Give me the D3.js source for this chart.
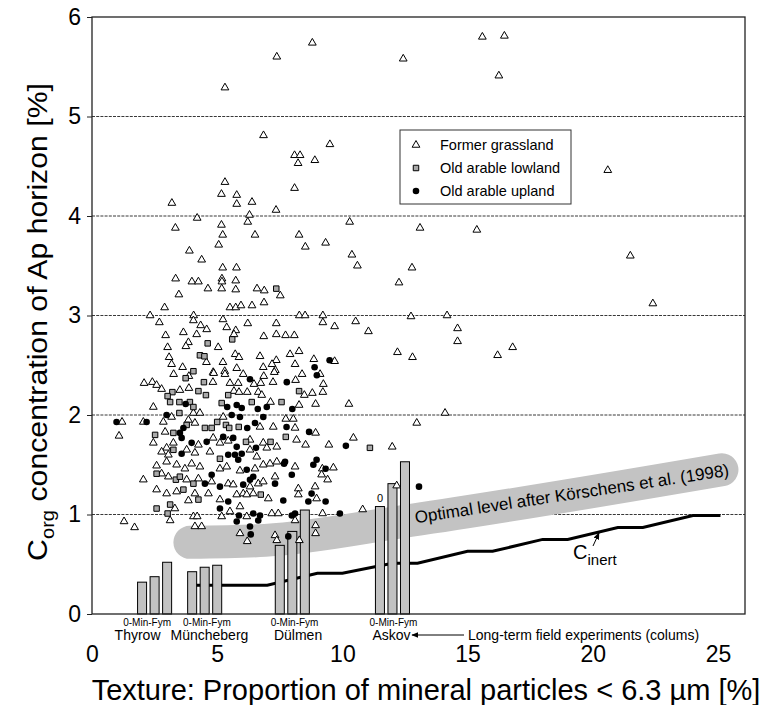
<!DOCTYPE html>
<html><head><meta charset="utf-8">
<script src="https://cdn.jsdelivr.net/npm/d3@7/dist/d3.min.js"></script>
<style>
body{margin:0;background:#fff}
text{font-family:"Liberation Sans",Arial,sans-serif;fill:#000}
</style></head>
<body><svg id="chart" width="765" height="705"></svg>
<script>
// ---------- data ----------
const xTicks = [0, 5, 10, 15, 20, 25];
const yTicks = [0, 1, 2, 3, 4, 5, 6];
const gridValues = [1, 2, 3, 4, 5];

const grassland = [
[8.80,5.74],[7.38,5.60],[5.31,5.29],[12.43,5.58],[15.59,5.80],[16.47,5.81],[16.25,5.41],
[6.85,4.81],[9.50,4.72],[8.09,4.61],[8.31,4.61],[8.23,4.53],[8.90,4.56],[20.60,4.46],
[5.31,4.34],[5.17,4.22],[5.78,4.21],[3.19,4.13],[5.78,4.12],[6.39,4.14],[8.09,4.28],[7.35,4.06],[6.29,4.01],[4.20,3.98],[6.22,3.94],[3.33,3.88],[5.17,3.91],[5.22,3.81],[6.51,3.81],[5.06,3.71],[8.27,3.81],[8.52,3.69],[9.33,3.73],[10.29,3.94],[13.10,3.88],[15.37,3.86],[3.89,3.65],[4.38,3.56],[10.38,3.61],[10.60,3.50],[12.78,3.48],[5.22,3.48],[5.77,3.48],
[3.34,3.37],[3.99,3.34],[4.25,3.34],[5.19,3.37],[5.19,3.34],[5.74,3.35],[4.63,3.27],[5.18,3.27],[5.74,3.26],[6.59,3.27],[6.88,3.25],[7.52,3.20],[3.47,3.21],[2.90,3.08],[5.51,3.08],[5.74,3.08],[5.95,3.10],[6.39,3.10],[6.87,3.13],[2.32,3.00],[4.06,3.00],[8.28,3.00],[8.51,3.00],[9.22,3.00],[2.69,2.93],[4.05,2.95],[5.23,2.96],[4.34,2.90],[4.58,2.86],[5.38,2.88],[5.74,2.85],[6.22,2.92],[7.36,2.92],[9.22,2.93],[9.69,2.89],[10.53,2.94],[11.04,2.84],[2.94,2.80],[3.65,2.83],[4.18,2.81],[5.67,2.81],[6.86,2.79],[7.36,2.81],[7.73,2.80],[8.08,2.80],[3.02,2.68],[3.85,2.73],[3.75,2.69],[5.04,2.68],[7.91,2.61],[8.27,2.64],[3.08,2.58],[4.57,2.53],[5.72,2.61],[5.87,2.58],[6.71,2.59],[7.36,2.55],[5.23,2.53],[8.86,2.56],[9.69,2.54],[3.18,2.51],[3.62,2.48],[4.84,2.43],[5.30,2.44],[5.78,2.47],[6.84,2.48],[7.19,2.51],[7.32,2.45],[8.11,2.51],[9.11,2.41],[3.26,2.41],[4.86,2.42],[5.31,2.41],[6.04,2.41],[6.86,2.39],[7.28,2.43],[8.39,2.41],[3.87,2.39],[4.83,2.33],[5.51,2.32],[5.84,2.32],[6.47,2.31],[6.74,2.32],[7.23,2.33],[8.13,2.35],[9.24,2.31],[2.08,2.32],[2.41,2.33],[2.58,2.30],[2.78,2.26],[3.51,2.25],[3.87,2.27],[5.67,2.24],[5.87,2.23],[6.20,2.23],[6.64,2.23],[6.78,2.20],[8.48,2.20],[8.80,2.22],[9.22,2.23],
[7.13,2.13],[8.27,2.10],[8.93,2.11],[10.26,2.11],[2.45,2.08],[2.05,1.93],[2.85,1.93],[3.18,1.98],[4.05,2.02],[4.31,2.02],[3.85,1.95],[2.92,1.83],[4.11,1.92],[5.24,1.98],[6.71,1.88],[7.24,1.88],[8.11,1.87],[7.74,1.96],[8.04,1.96],[8.93,1.82],[2.45,1.72],[3.25,1.72],[4.25,1.70],[4.84,1.77],[5.11,1.72],[5.44,1.74],[6.31,1.75],[6.84,1.72],[6.98,1.67],[7.38,1.68],[8.17,1.75],[8.53,1.70],[9.46,1.70],[10.44,1.77],[2.98,1.67],[2.78,1.63],[3.05,1.60],[3.78,1.65],[4.11,1.62],[4.71,1.63],[6.31,1.65],[6.58,1.58],[7.11,1.51],[7.38,1.53],[8.11,1.48],[9.20,1.46],[9.64,1.47],[9.17,1.40],[9.41,1.35],[2.05,1.35],[2.58,1.49],[2.98,1.53],[3.38,1.50],[3.71,1.46],[3.98,1.51],[4.31,1.48],[5.11,1.46],[5.38,1.48],[5.91,1.44],[6.51,1.46],[6.84,1.50],[7.31,1.38],[2.78,1.41],[3.05,1.38],[3.78,1.35],[4.25,1.36],[4.78,1.33],[5.44,1.31],[5.64,1.30],[6.31,1.28],[6.64,1.31],[6.84,1.33],[8.24,1.26],[8.91,1.28],[2.58,1.25],[2.98,1.21],[3.38,1.23],[4.11,1.21],[3.85,1.14],[4.65,1.21],[5.11,1.15],[5.78,1.20],[6.04,1.21],[6.18,1.20],[6.44,1.21],[7.04,1.16],[8.24,1.20],[8.97,1.16],[3.31,1.06],[3.12,0.94],[4.05,0.98],[4.20,0.98],[4.11,0.88],[4.38,0.88],[5.18,0.98],[5.51,1.03],[5.91,1.08],[6.18,0.98],[5.91,0.81],[6.20,0.73],[7.18,1.01],[7.44,1.01],[8.11,0.94],[8.93,0.89],[8.93,0.81],[9.21,1.01],[10.81,1.05],[7.31,0.79],[7.38,0.74],[8.28,0.74],
[12.97,1.92],[11.99,1.68],[12.17,1.29],[1.08,1.79],[1.28,0.93],[1.70,0.87],[1.20,1.93],
[12.26,3.33],[12.74,2.99],[14.18,3.00],[12.20,2.63],[12.80,2.58],[14.60,2.87],[14.60,2.74],[16.20,2.60],[16.80,2.68],[14.10,2.02],[21.50,3.60],[22.40,3.12]
];

const lowland = [
[7.36,3.27],[5.60,2.76],[4.62,2.72],[4.31,2.60],[4.49,2.59],[4.05,2.44],[3.74,2.37],[4.47,2.33],[3.21,2.23],[3.02,2.19],[4.25,2.24],[4.55,2.20],[5.44,2.20],[8.27,2.24],
[3.12,2.13],[3.49,2.13],[3.91,2.13],[4.05,2.08],[5.18,2.12],[6.38,2.13],[7.57,2.13],[3.49,2.02],[3.78,1.90],[3.25,1.82],[2.52,1.80],[4.51,1.87],[4.78,1.87],[5.00,1.93],[5.35,1.90],[5.48,1.87],[5.86,1.88],[6.15,1.73],[7.13,1.73],[7.74,1.78],[11.10,1.67],[3.25,1.65],[5.11,1.56],[2.58,1.41],[3.35,1.35],[3.51,1.38],[4.05,1.31],[3.65,1.25],[4.25,1.15],[6.74,1.20],[2.58,1.06],[3.12,1.10],[3.02,1.01]
];

const upland = [
[9.49,2.55],[8.89,2.48],[8.98,2.40],[6.31,2.36],[7.78,2.33],
[3.74,2.11],[5.40,2.08],[5.78,2.10],[5.98,2.07],[6.62,2.06],[6.98,2.08],[8.00,2.06],[2.18,1.93],[2.98,2.00],[3.65,1.87],[3.51,1.82],[5.58,2.00],[5.91,1.98],[6.20,1.87],[6.51,1.92],[6.84,1.98],[7.77,1.88],[8.67,1.83],[3.58,1.77],[3.98,1.72],[4.58,1.73],[5.24,1.78],[5.64,1.77],[5.78,1.68],[6.55,1.67],[10.14,1.69],[3.58,1.61],[5.44,1.60],[5.71,1.60],[5.98,1.61],[5.84,1.55],[7.67,1.51],[8.97,1.55],[8.84,1.50],[9.33,1.46],[4.78,1.40],[6.18,1.45],[6.44,1.38],[7.31,1.31],[7.98,1.40],[7.71,1.53],[4.51,1.31],[5.11,1.28],[6.04,1.30],[6.31,1.35],[5.44,1.13],[7.64,1.14],[8.77,1.21],[8.64,1.13],[9.33,1.13],[5.11,1.06],[5.87,0.99],[5.78,0.93],[6.44,1.01],[6.71,0.99],[6.31,0.88],[6.64,0.94],[6.34,0.80],[7.98,0.99],[8.11,1.01],[9.90,1.01],[7.84,0.78],
[13.06,1.28],[0.98,1.93]
];

// long-term field experiments (columns)
const sites = ["Thyrow", "Müncheberg", "Dülmen", "Askov"];
const treatmentLabel = "0-Min-Fym";
const barX = [[2.0,2.5,3.0],[4.0,4.5,5.0],[7.5,8.0,8.5],[11.5,12.0,12.5]];
const barValues = [[0.32,0.375,0.52],[0.425,0.47,0.49],[0.69,0.83,1.045],[1.08,1.31,1.53]];
const treatmentLabelX = [2.2, 4.59, 8.09, 12.04];
const siteLabelX = [1.82, 4.69, 8.23, 11.96];

// C inert line
const cinertX = [4.0, 7.0, 9.0, 10.0, 12.0, 13.0, 15.0, 16.0, 18.0, 19.0, 21.0, 22.0, 24.0, 25.1];
const cinertY = [0.29, 0.29, 0.41, 0.41, 0.51, 0.51, 0.63, 0.63, 0.75, 0.75, 0.87, 0.87, 0.99, 0.99];

// optimal level band (Körschens et al. 1998)
const optimalX = [3.91, 6.91, 12.70, 25.16];
const optimalY = [0.72, 0.74, 0.94, 1.45];

const legendItems = ["Former grassland", "Old arable lowland", "Old arable upland"];

// ---------- drawing ----------
const svg = d3.select("#chart");
const L = 92, R = 745, T = 17, B = 614;
const x = d3.scaleLinear().domain([0, 26.08]).range([L, R]);
const y = d3.scaleLinear().domain([0, 6]).range([B, T]);

// gridlines
svg.append("g").selectAll("line").data(gridValues).join("line")
  .attr("x1", L).attr("x2", R).attr("y1", d => y(d)).attr("y2", d => y(d))
  .attr("stroke", "#222").attr("stroke-width", 0.9).attr("stroke-dasharray", "3,1.2");

// optimal band
const bandLine = d3.line().x(d => x(d[0])).y(d => y(d[1])).curve(d3.curveMonotoneX);
svg.append("path").datum(optimalX.map((v, i) => [v, optimalY[i]]))
  .attr("d", bandLine).attr("fill", "none").attr("stroke", "#c3c3c3")
  .attr("stroke-width", 33).attr("stroke-linecap", "round").attr("stroke-linejoin", "round");

svg.append("text").attr("transform", "translate(572,495) rotate(-8.6)")
  .attr("text-anchor", "middle").attr("dominant-baseline", "middle")
  .style("font-size", "17px").text("Optimal level after Körschens et al. (1998)");

// C inert line
svg.append("path").datum(cinertX.map((v, i) => [v, cinertY[i]]))
  .attr("d", d3.line().x(d => x(d[0])).y(d => y(d[1])))
  .attr("fill", "none").attr("stroke", "#000").attr("stroke-width", 3);

// bars
const bw = x(0.36) - x(0);
const barData = [];
barX.forEach((g, i) => g.forEach((v, j) => barData.push({x: v, v: barValues[i][j]})));
svg.append("g").selectAll("rect").data(barData).join("rect")
  .attr("x", d => x(d.x) - bw / 2).attr("width", bw)
  .attr("y", d => y(d.v)).attr("height", d => y(0) - y(d.v))
  .attr("fill", "#c2c2c2").attr("stroke", "#000").attr("stroke-width", 1);

svg.append("text").attr("x", x(barX[3][0])).attr("y", y(barValues[3][0]) - 5)
  .attr("text-anchor", "middle").style("font-size", "11px").text("0");

// scatter
const tri = d3.symbol(d3.symbolTriangle, 26)();
const sq = d3.symbol(d3.symbolSquare, 30)();
svg.append("g").selectAll("path").data(grassland).join("path")
  .attr("d", tri).attr("transform", d => `translate(${x(d[0])},${y(d[1])})`)
  .attr("fill", "#fff").attr("stroke", "#000").attr("stroke-width", 1);
svg.append("g").selectAll("path").data(lowland).join("path")
  .attr("d", sq).attr("transform", d => `translate(${x(d[0])},${y(d[1])})`)
  .attr("fill", "#a9a9a9").attr("stroke", "#000").attr("stroke-width", 1);
svg.append("g").selectAll("circle").data(upland).join("circle")
  .attr("cx", d => x(d[0])).attr("cy", d => y(d[1])).attr("r", 3.3).attr("fill", "#000");

// C inert label + arrow
svg.append("defs").append("marker").attr("id", "ah").attr("viewBox", "0 0 10 10")
  .attr("refX", 9).attr("refY", 5).attr("markerWidth", 7).attr("markerHeight", 7)
  .attr("orient", "auto").append("path").attr("d", "M0,1 L10,5 L0,9 Z").attr("fill", "#000");
svg.append("line").attr("x1", 593).attr("y1", 546).attr("x2", 599).attr("y2", 533)
  .attr("stroke", "#000").attr("stroke-width", 1).attr("marker-end", "url(#ah)");
const ci = svg.append("text").attr("x", 573).attr("y", 559).style("font-size", "20px");
ci.append("tspan").text("C");
ci.append("tspan").attr("dy", 6).style("font-size", "15px").text("inert");

// frame
svg.append("rect").attr("x", L).attr("y", T).attr("width", R - L).attr("height", B - T)
  .attr("fill", "none").attr("stroke", "#222").attr("stroke-width", 1.3);

// y axis
const ya = svg.append("g").attr("transform", `translate(${L},0)`)
  .call(d3.axisLeft(y).tickValues(yTicks).tickFormat(d3.format("d")).tickSize(5).tickPadding(6));
ya.select(".domain").remove();
ya.selectAll("line").attr("stroke", "#222");
ya.selectAll("text").style("font-size", "23px").style("font-family", "'Liberation Sans',Arial,sans-serif");

// x axis (labels only)
const xa = svg.append("g").attr("transform", `translate(0,${B})`)
  .call(d3.axisBottom(x).tickValues(xTicks).tickFormat(d3.format("d")).tickSize(0).tickPadding(32));
xa.select(".domain").remove();
xa.selectAll("text").style("font-size", "23px").style("font-family", "'Liberation Sans',Arial,sans-serif");

// experiment labels
svg.append("g").selectAll("text").data(treatmentLabelX).join("text")
  .attr("x", d => x(d)).attr("y", 626).attr("text-anchor", "middle")
  .style("font-size", "10px").text(treatmentLabel);
svg.append("g").selectAll("text").data(sites).join("text")
  .attr("x", (d, i) => x(siteLabelX[i])).attr("y", 640).attr("text-anchor", "middle")
  .style("font-size", "14px").text(d => d);
svg.append("line").attr("x1", 464).attr("y1", 635).attr("x2", 412).attr("y2", 635)
  .attr("stroke", "#000").attr("stroke-width", 1).attr("marker-end", "url(#ah)");
svg.append("text").attr("x", 468).attr("y", 640).style("font-size", "14px")
  .text("Long-term field experiments (colums)");

// legend
const lg = svg.append("g");
lg.append("rect").attr("x", 400).attr("y", 130).attr("width", 171).attr("height", 74)
  .attr("fill", "#fff").attr("stroke", "#333").attr("stroke-width", 1);
const ly = [145, 168, 191];
lg.append("path").attr("d", tri).attr("transform", `translate(416,${ly[0]})`).attr("fill", "#fff").attr("stroke", "#000");
lg.append("path").attr("d", sq).attr("transform", `translate(416,${ly[1]})`).attr("fill", "#a9a9a9").attr("stroke", "#000");
lg.append("circle").attr("cx", 416).attr("cy", ly[2]).attr("r", 3.3).attr("fill", "#000");
lg.selectAll("text").data(legendItems).join("text")
  .attr("x", 440).attr("y", (d, i) => ly[i] + 5).style("font-size", "14.5px").text(d => d);

// axis titles
const yt = svg.append("text").attr("transform", "translate(47,322) rotate(-90) scale(1.12,1)")
  .attr("text-anchor", "middle").style("font-size", "27px");
yt.append("tspan").text("C");
yt.append("tspan").attr("dy", 7).style("font-size", "18px").text("org");
yt.append("tspan").attr("dy", -7).text(" concentration of Ap horizon [%]");

svg.append("text").attr("x", 426).attr("y", 700).attr("text-anchor", "middle")
  .style("font-size", "29px").text("Texture: Proportion of mineral particles < 6.3 µm [%]");
</script></body></html>
